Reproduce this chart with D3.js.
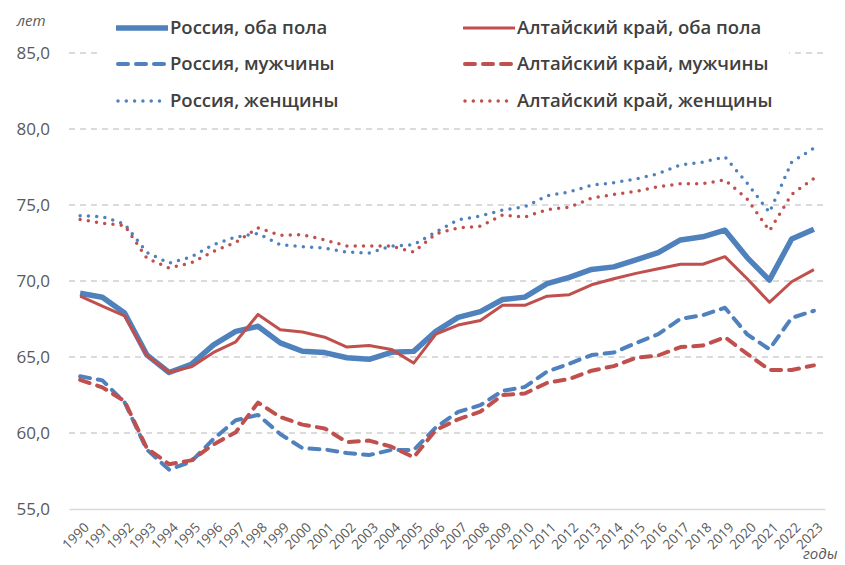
<!DOCTYPE html>
<html>
<head>
  <meta charset="UTF-8">
  <style>
    body { margin: 0; background: #fff; }
    svg { display: block; font-family: "Open Sans", sans-serif; }
  </style>
</head>
<body>
  <svg></svg>
<script src="https://d3js.org/d3.v7.min.js"></script>
<script>

let width = 845,
    height = 565;

// data
let years = d3.range(1990, 2024).map(String);

let rusBoth = [69.19, 68.93, 67.89, 65.14, 63.98, 64.52, 65.80, 66.69, 67.02, 65.93, 65.38, 65.29, 64.95, 64.85, 65.31, 65.37, 66.69, 67.61, 67.99, 68.78, 68.94, 69.83, 70.24, 70.76, 70.93, 71.39, 71.87, 72.70, 72.91, 73.34, 71.54, 70.06, 72.76, 73.41];
let rusMen = [63.73, 63.46, 62.02, 58.91, 57.59, 58.12, 59.61, 60.84, 61.19, 59.93, 59.00, 58.92, 58.68, 58.55, 58.89, 58.87, 60.37, 61.39, 61.83, 62.77, 63.03, 64.04, 64.56, 65.13, 65.29, 65.92, 66.50, 67.51, 67.75, 68.24, 66.49, 65.51, 67.57, 68.04];
let rusWomen = [74.30, 74.23, 73.75, 71.88, 71.18, 71.59, 72.40, 72.89, 73.13, 72.39, 72.26, 72.17, 71.90, 71.84, 72.30, 72.39, 73.23, 74.02, 74.28, 74.67, 74.88, 75.61, 75.86, 76.30, 76.47, 76.71, 77.06, 77.64, 77.82, 78.17, 76.43, 74.51, 77.82, 78.74];

let altBoth = [69.0, 68.35, 67.7, 65.1, 64.0, 64.35, 65.3, 66.0, 67.8, 66.8, 66.65, 66.3, 65.65, 65.75, 65.5, 64.6, 66.5, 67.1, 67.4, 68.4, 68.4, 69.0, 69.1, 69.75, 70.15, 70.5, 70.8, 71.1, 71.1, 71.6, 70.15, 68.6, 69.95, 70.75];
let altMen = [63.5, 63.0, 62.1, 59.0, 57.95, 58.2, 59.25, 60.05, 62.0, 61.05, 60.55, 60.3, 59.4, 59.5, 59.1, 58.4, 60.2, 60.9, 61.4, 62.5, 62.6, 63.3, 63.55, 64.1, 64.4, 64.95, 65.1, 65.65, 65.75, 66.3, 65.2, 64.15, 64.15, 64.45];
let altWomen = [74.05, 73.8, 73.65, 71.5, 70.85, 71.2, 71.95, 72.55, 73.5, 73.0, 73.05, 72.7, 72.3, 72.3, 72.3, 71.9, 73.1, 73.5, 73.6, 74.35, 74.2, 74.7, 74.85, 75.45, 75.7, 75.9, 76.2, 76.4, 76.4, 76.65, 75.4, 73.3, 75.7, 76.75];

let yTicks = [55, 60, 65, 70, 75, 80, 85];

let blue = "#4f81bd",
    red = "#c0504d";

let series = [
  {name: "Россия, оба пола", values: rusBoth, color: blue, w: 5.5, dash: null},
  {name: "Россия, мужчины", values: rusMen, color: blue, w: 4, dash: "10,8"},
  {name: "Россия, женщины", values: rusWomen, color: blue, w: 3.5, dash: "0,8.3"},
  {name: "Алтайский край, оба пола", values: altBoth, color: red, w: 3, dash: null},
  {name: "Алтайский край, мужчины", values: altMen, color: red, w: 4, dash: "10,8"},
  {name: "Алтайский край, женщины", values: altWomen, color: red, w: 3.5, dash: "0,8.3"}
];

let svg = d3.select("svg")
    .attr("width", width)
    .attr("height", height);

let x = d3.scalePoint()
    .domain(years)
    .range([69, 825])
    .padding(0.5);

let y = d3.scaleLinear()
    .domain([55, 85])
    .range([509, 53]);

// gridlines
svg.append("g")
  .selectAll("line")
  .data(yTicks.filter(d => d > 55))
  .enter()
  .append("line")
    .attr("x1", 69)
    .attr("x2", 825)
    .attr("y1", d => y(d))
    .attr("y2", d => y(d))
    .attr("stroke", "#d0d0d0")
    .attr("stroke-width", 1.3)
    .attr("stroke-dasharray", "6,5");

// x axis
let xAxis = svg.append("g")
    .attr("transform", "translate(0," + y(55) + ")")
    .call(d3.axisBottom(x).tickSize(0).tickPadding(0));
xAxis.select(".domain").attr("stroke", "#d9d9d9").attr("stroke-width", 1.5);
xAxis.selectAll("text")
    .attr("font-family", "Open Sans")
    .attr("font-size", 13.5)
    .attr("fill", "#595959")
    .attr("text-anchor", "end")
    .attr("dy", "0.35em")
    .attr("transform", "translate(6,16) rotate(-45)");

// y axis labels
let yAxis = svg.append("g")
    .attr("transform", "translate(50,0)")
    .call(d3.axisLeft(y).tickValues(yTicks).tickSize(0).tickPadding(0)
      .tickFormat(d => d3.format(".1f")(d).replace(".", ",")));
yAxis.select(".domain").remove();
yAxis.selectAll("text")
    .attr("font-family", "Open Sans")
    .attr("font-size", 17)
    .attr("fill", "#595959");

// lines
let line = d3.line()
    .x((d, i) => x(years[i]))
    .y(d => y(d));

svg.append("g")
  .selectAll("path")
  .data(series)
  .enter()
  .append("path")
    .attr("d", d => line(d.values))
    .attr("fill", "none")
    .attr("stroke", d => d.color)
    .attr("stroke-width", d => d.w)
    .attr("stroke-dasharray", d => d.dash)
    .attr("stroke-linecap", d => d.dash ? "round" : "butt")
    .attr("stroke-linejoin", "round");

// legend (white box covers top gridline)
svg.append("rect")
    .attr("x", 101)
    .attr("y", 8)
    .attr("width", 688)
    .attr("height", 110)
    .attr("fill", "#fff");

let legend = svg.append("g")
  .selectAll("g")
  .data(series)
  .enter()
  .append("g")
    .attr("transform", (d, i) => "translate(" + (i < 3 ? 116 : 463) + "," + [28, 64, 101][i % 3] + ")");

legend.append("line")
    .attr("x1", d => d.dash ? 2 : 0)
    .attr("x2", d => d.dash ? 50 : 52)
    .attr("stroke", d => d.color)
    .attr("stroke-width", d => d.w)
    .attr("stroke-dasharray", d => d.dash)
    .attr("stroke-linecap", d => d.dash ? "round" : "butt");

legend.append("text")
    .attr("x", 54)
    .attr("dy", "0.35em")
    .attr("font-size", 18.5)
    .attr("font-weight", 600)
    .attr("fill", "#404040")
    .text(d => d.name);

// axis titles
svg.append("text")
    .attr("x", 17)
    .attr("y", 26)
    .attr("font-size", 15)
    .attr("font-style", "italic")
    .attr("fill", "#595959")
    .text("лет");

svg.append("text")
    .attr("x", 803)
    .attr("y", 559)
    .attr("font-size", 15)
    .attr("font-style", "italic")
    .attr("fill", "#595959")
    .text("годы");

</script>
</body>
</html>
